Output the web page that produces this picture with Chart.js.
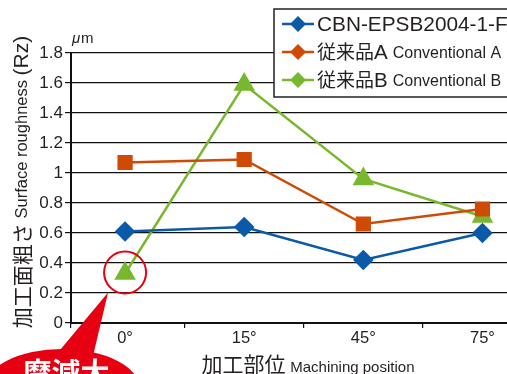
<!DOCTYPE html>
<html>
<head>
<meta charset="utf-8">
<script src="https://cdn.jsdelivr.net/npm/chart.js@4"></script>
<style>
  html, body { margin: 0; padding: 0; background: #fff; overflow: hidden; }
  #wrap { width: 560px; height: 374px; }
</style>
</head>
<body>
<div id="wrap"><canvas id="roughChart" width="560" height="374"></canvas></div>
<script>
// 加工部位ごとの面粗さデータ
const positions = ['0°', '15°', '45°', '75°'];
const cbnValues = [0.61, 0.64, 0.42, 0.60];
const convAValues = [1.07, 1.09, 0.66, 0.76];
const convBValues = [0.33, 1.59, 0.96, 0.71];
const yTickLabels = ['0', '0.2', '0.4', '0.6', '0.8', '1', '1.2', '1.4', '1.6', '1.8'];
const seriesNames = ['CBN-EPSB2004-1-F', '従来品A', '従来品B'];
const seriesSubNames = ['', 'Conventional A', 'Conventional B'];

const JP = '"Noto Sans CJK JP", sans-serif';
const LT = '"Liberation Sans", Arial, sans-serif';
const TXT = '#231f20';
const colors = ['#0a5aa8', '#cf4a04', '#78b82e'];

// 横軸は位置番号で並べる（0°の前の余白が少し狭い）
const xMin = -0.454;
const xMax = 3.546;
const toPoints = arr => arr.map((v, i) => ({ x: i, y: v }));

// 凡例・軸タイトル・吹き出しを描く
const overlay = {
    id: 'overlay',
    afterDraw(chart) {
        const c = chart.ctx;
        const y = chart.scales.y;
        c.save();

        // μm
        c.fillStyle = TXT;
        c.textBaseline = 'middle';
        c.textAlign = 'left';
        c.font = 'italic 15px ' + LT;
        c.fillText('μ', 72, 39);
        c.font = '15px ' + LT;
        c.fillText('m', 81, 39);

        // 縦軸タイトル
        c.save();
        c.translate(22, 182);
        c.rotate(-Math.PI / 2);
        const parts = [['加工面粗さ ', '21px ' + JP], ['Surface roughness ', '16.5px ' + LT], ['(Rz)', '21px ' + LT]];
        let total = 0;
        parts.forEach(p => { c.font = p[1]; total += c.measureText(p[0]).width; });
        let px = -total / 2;
        parts.forEach(p => { c.font = p[1]; c.fillText(p[0], px, 0); px += c.measureText(p[0]).width; });
        c.restore();

        // 横軸タイトル
        const xparts = [['加工部位 ', '21px ' + JP], ['Machining position', '15px ' + LT]];
        total = 0;
        xparts.forEach(p => { c.font = p[1]; total += c.measureText(p[0]).width; });
        px = 308 - total / 2;
        c.textBaseline = 'alphabetic';
        xparts.forEach(p => { c.font = p[1]; c.fillText(p[0], px, 372); px += c.measureText(p[0]).width; });

        // 凡例
        c.fillStyle = '#fff';
        c.strokeStyle = '#222';
        c.lineWidth = 1.5;
        c.fillRect(274, 9, 320, 88);
        c.strokeRect(274, 9, 320, 88);
        const rows = [24, 52, 80];
        rows.forEach((ry, i) => {
            c.strokeStyle = colors[i];
            c.lineWidth = 2.5;
            c.beginPath();
            c.moveTo(282, ry);
            c.lineTo(314, ry);
            c.stroke();
            c.fillStyle = colors[i];
            c.beginPath();
            c.moveTo(298, ry - 8);
            c.lineTo(306, ry);
            c.lineTo(298, ry + 8);
            c.lineTo(290, ry);
            c.closePath();
            c.fill();
            c.fillStyle = TXT;
            c.textBaseline = 'middle';
            if (i === 0) {
                c.font = '20.8px ' + LT;
                c.fillText(seriesNames[i], 317, ry + 1);
            } else {
                c.font = '19px ' + JP;
                c.fillText(seriesNames[i].slice(0, 3), 317, ry);
                let w = c.measureText(seriesNames[i].slice(0, 3)).width;
                c.font = '20.5px ' + LT;
                c.fillText(seriesNames[i].slice(3), 317 + w, ry + 1);
                w += c.measureText(seriesNames[i].slice(3)).width + 5;
                c.font = '16px ' + LT;
                c.fillText(seriesSubNames[i], 317 + w, ry + 2);
            }
        });

        // 赤丸と吹き出し
        const cx = chart.scales.x.getPixelForValue(0);
        const cy = y.getPixelForValue(convBValues[0]);
        c.strokeStyle = '#e60012';
        c.lineWidth = 2;
        c.beginPath();
        c.arc(cx, cy - 1, 21, 0, Math.PI * 2);
        c.stroke();

        c.fillStyle = '#e60012';
        c.beginPath();
        c.moveTo(55, 356);
        c.lineTo(cx - 17, cy + 19);
        c.lineTo(93, 356);
        c.closePath();
        c.fill();
        c.beginPath();
        c.ellipse(62, 389, 78, 40, 0, 0, Math.PI * 2);
        c.fill();
        c.fillStyle = '#fff';
        c.font = 'bold 29px ' + JP;
        c.textAlign = 'center';
        c.textBaseline = 'top';
        c.fillText('摩減大', 66, 358);

        c.restore();
    }
};

const ctx = document.getElementById('roughChart').getContext('2d');
new Chart(ctx, {
    type: 'line',
    data: {
        datasets: [
            {
                label: seriesNames[0],
                data: toPoints(cbnValues),
                borderColor: colors[0],
                backgroundColor: colors[0],
                borderWidth: 2.5,
                pointStyle: 'rectRot',
                pointRadius: 8.5,
                pointHoverRadius: 8.5
            },
            {
                label: seriesNames[1],
                data: toPoints(convAValues),
                borderColor: colors[1],
                backgroundColor: colors[1],
                borderWidth: 2.5,
                pointStyle: 'rect',
                pointRadius: 9,
                pointHoverRadius: 9
            },
            {
                label: seriesNames[2],
                data: toPoints(convBValues),
                borderColor: colors[2],
                backgroundColor: colors[2],
                borderWidth: 2.5,
                pointStyle: 'triangle',
                pointRadius: 10,
                pointHoverRadius: 10
            }
        ]
    },
    options: {
        responsive: false,
        animation: false,
        events: [],
        layout: { padding: { top: 53, left: 0, right: 0, bottom: 0 } },
        plugins: { legend: { display: false }, tooltip: { enabled: false } },
        scales: {
            x: {
                type: 'linear',
                min: xMin,
                max: xMax,
                afterFit: s => { s.height = 51; },
                afterBuildTicks: s => {
                    s.ticks = [xMin, 0, 0.5, 1, 1.5, 2, 2.5, 3].map(v => ({ value: v }));
                },
                grid: {
                    drawOnChartArea: false,
                    tickLength: 5,
                    lineWidth: 1.2,
                    color: c => (c.tick && Number.isInteger(c.tick.value)) ? 'rgba(0,0,0,0)' : '#111'
                },
                border: { color: '#111', width: 2 },
                ticks: {
                    autoSkip: false,
                    maxRotation: 0,
                    color: TXT,
                    font: { family: LT, size: 16.5 },
                    padding: 1,
                    callback: v => Number.isInteger(v) ? positions[v] : ''
                }
            },
            y: {
                min: 0,
                max: 1.8,
                afterFit: s => { s.width = 71; },
                grid: { color: '#111', lineWidth: 1.2, tickLength: 6 },
                border: { color: '#111', width: 2 },
                ticks: {
                    stepSize: 0.2,
                    color: TXT,
                    font: { family: LT, size: 17 },
                    padding: 2,
                    callback: (v, i) => yTickLabels[i]
                }
            }
        }
    },
    plugins: [overlay]
});
</script>
</body>
</html>
